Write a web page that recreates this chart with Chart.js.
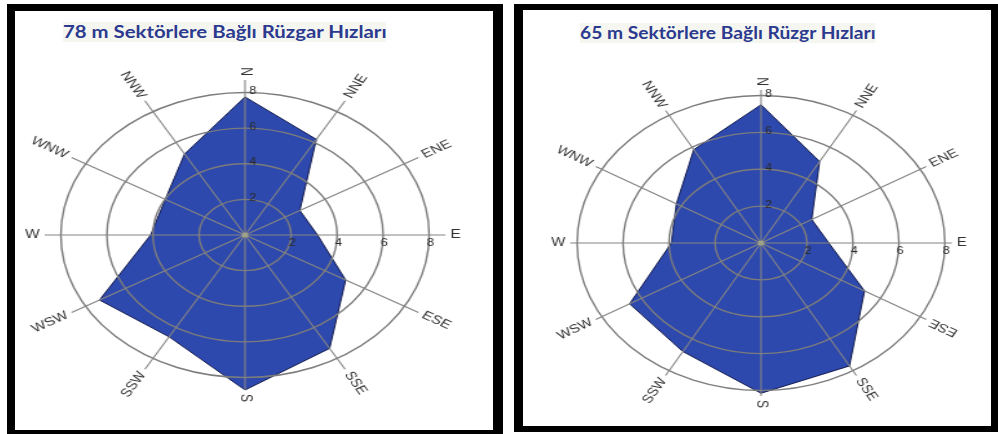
<!DOCTYPE html>
<html><head><meta charset="utf-8">
<script src="https://cdn.jsdelivr.net/npm/chart.js@4.4.1/dist/chart.umd.min.js"></script>
<style>
html,body{margin:0;padding:0;background:#fff;width:998px;height:434px;overflow:hidden;position:relative;}
.panel{position:absolute;box-sizing:border-box;border-style:solid;border-color:#000;background:#fff;}
#p1{left:7px;top:4px;width:496px;height:434px;border-width:7px 10px 8px 8px;}
#p2{left:514px;top:4px;width:487px;height:428px;border-width:6px 10px 6px 9px;}
.title{position:absolute;font-family:Lato,"Open Sans",sans-serif;font-weight:700;font-size:16.5px;color:#2b3a8f;white-space:nowrap;transform-origin:0 50%;line-height:20px;background:#f6f6f0;}
.wrap{position:absolute;width:400px;height:400px;transform-origin:200px 200px;}
canvas{display:block;}
</style></head>
<body>
<div class="panel" id="p1"></div>
<div class="panel" id="p2"></div>
<div class="title" id="t1" style="left:63px;top:22px;"></div>
<div class="title" id="t2" style="left:580px;top:23px;"></div>
<div class="wrap" style="left:44.5px;top:35px;transform:scaleX(1.292);"><canvas id="c1" width="400" height="400"></canvas></div>
<div class="wrap" style="left:560.5px;top:42.7px;transform:scaleX(1.247);"><canvas id="c2" width="400" height="400"></canvas></div>
<script>
const directions = ['N','NNE','ENE','E','ESE','SSE','S','SSW','WSW','W','WNW','NNW'];
const speeds78 = [7.75, 6.2, 2.75, 3.15, 5.05, 7.35, 8.7, 6.6, 7.3, 4.1, 4.0, 5.25];
const speeds65 = [7.5, 5.1, 2.55, 2.95, 5.2, 7.7, 8.15, 6.8, 6.6, 3.9, 4.25, 5.85];
const ringTicks = [2, 4, 6, 8];
const tickLabels = ['2', '4', '6', '8'];
const title78 = '78 m Sektörlere Bağlı Rüzgar Hızları';
const title65 = '65 m Sektörlere Bağlı Rüzgr Hızları';

const roseDecor = {
  id: 'roseDecor',
  afterDraw(chart, args, opts) {
    const s = chart.scales.r, ctx = chart.ctx;
    const xc = s.xCenter, yc = s.yCenter, R = s.drawingArea;
    ctx.save();
    ctx.fillStyle = '#9fa38a';
    ctx.beginPath(); ctx.arc(xc, yc, 2.5, 0, Math.PI * 2); ctx.fill();
    ctx.font = '10px "Liberation Sans", Arial, sans-serif';
    ctx.fillStyle = '#2a2a2a';
    ctx.textBaseline = 'middle';
    ctx.textAlign = 'center';
    ringTicks.forEach((v, i) => {
      const d = s.getDistanceFromCenterForValue(v);
      ctx.fillText(tickLabels[i], xc + d + 1, yc + 8);
      ctx.fillText(tickLabels[i], xc + 6, yc - d - 1);
    });
    ctx.font = '12px "Liberation Sans", Arial, sans-serif';
    ctx.fillStyle = '#333';
    chart.data.labels.forEach((lab, i) => {
      const ang = s.getIndexAngle(i);
      const deg = Math.round(ang * 180 / Math.PI) % 360;
      const p = s.getPointPosition(i, R + opts.gap);
      let rot, align;
      if (deg > 0 && deg <= 180) { rot = deg - 90; align = 'left'; }
      else { rot = deg - 270; align = 'right'; }
      if ((opts.flip || []).includes(lab)) { rot += 180; align = align === 'left' ? 'right' : 'left'; }
      ctx.save();
      ctx.translate(p.x, p.y);
      ctx.rotate(rot * Math.PI / 180);
      ctx.textAlign = align;
      ctx.fillText(lab, 0, 0);
      ctx.restore();
    });
    ctx.restore();
  }
};

function makeRose(id, values, maxVal, area, flip) {
  const pad = 200 - area;
  return new Chart(document.getElementById(id), {
    type: 'radar',
    data: {
      labels: directions,
      datasets: [{
        data: values,
        backgroundColor: '#2e49ad',
        borderColor: '#121a4c',
        borderWidth: 1,
        pointRadius: 0,
        pointHitRadius: 0,
        fill: 'origin',
        tension: 0
      }]
    },
    options: {
      responsive: false,
      animation: false,
      events: [],
      layout: { padding: pad },
      plugins: {
        legend: { display: false },
        tooltip: { enabled: false },
        title: { display: false },
        roseDecor: { gap: 4, flip: flip }
      },
      scales: {
        r: {
          min: 0,
          max: maxVal,
          startAngle: 0,
          ticks: { display: false, stepSize: 2 },
          afterBuildTicks: (sc) => { sc.ticks = [0].concat(ringTicks).map(v => ({ value: v })); },
          grid: { circular: true, z: 1, color: '#7c7c7c', lineWidth: 1.4 },
          angleLines: { display: true, color: '#848484', lineWidth: 1.1 },
          pointLabels: { display: false }
        }
      }
    },
    plugins: [roseDecor]
  });
}

function fitTitle(el, text, width) {
  el.textContent = text;
  const c = document.createElement('canvas').getContext('2d');
  const cs = getComputedStyle(el);
  c.font = cs.fontWeight + ' ' + cs.fontSize + ' ' + cs.fontFamily;
  const w = c.measureText(text).width;
  el.style.transform = 'scaleX(' + (width / w) + ')';
}

fitTitle(document.getElementById('t1'), title78, 324);
fitTitle(document.getElementById('t2'), title65, 296);
makeRose('c1', speeds78, 8.7, 155, []);
makeRose('c2', speeds65, 8.3, 153, ['ESE']);
</script>
</body></html>
